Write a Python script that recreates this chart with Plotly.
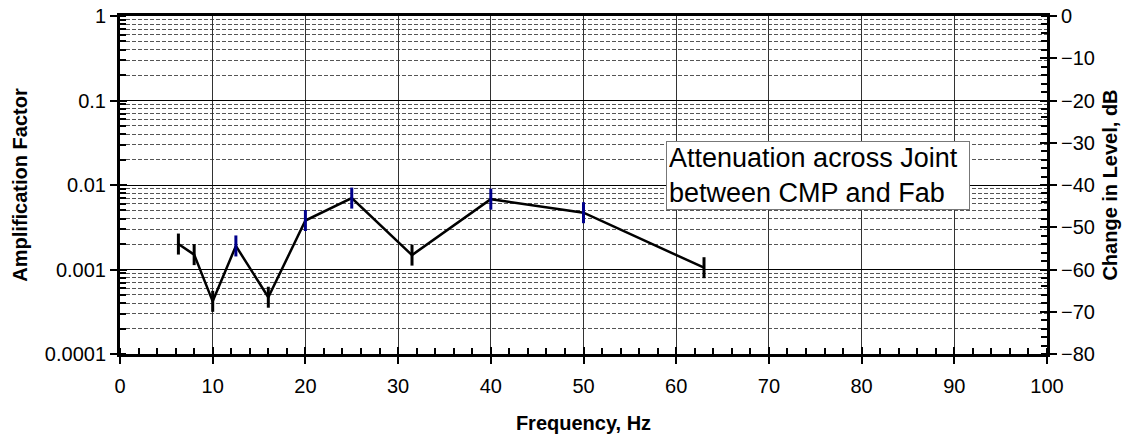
import plotly.graph_objects as go

# One-third-octave band centre frequencies (Hz) and measured amplification factor
freq_hz = [6.3, 8, 10, 12.5, 16, 20, 25, 31.5, 40, 50, 63]
amp_factor = [0.0020, 0.0015, 0.00042, 0.0019, 0.00047, 0.0038, 0.0070, 0.00148, 0.0068, 0.0047, 0.00105]
bar_colors = ["black", "black", "black", "#00008B", "black", "#00008B", "#00008B",
              "black", "#00008B", "#00008B", "black"]

x_ticks = list(range(0, 101, 10))
amp_ticks = [0.0001, 0.001, 0.01, 0.1, 1]
amp_tick_text = ["0.0001", "0.001", "0.01", "0.1", "1"]
db_ticks = list(range(-80, 1, 10))

FONT = "Liberation Sans, Arial, sans-serif"
AX = dict(showline=True, linecolor="black", linewidth=3, zeroline=False, automargin=False)

fig = go.Figure()
fig.add_trace(go.Scatter(
    x=freq_hz, y=amp_factor, mode="lines+markers",
    line=dict(color="black", width=2.5),
    marker=dict(symbol="line-ns", size=15, color=bar_colors,
                line=dict(width=3, color=bar_colors)),
    showlegend=False, cliponaxis=False,
))

fig.update_layout(
    width=1127, height=436,
    margin=dict(l=120, r=80, t=16, b=82),
    paper_bgcolor="white", plot_bgcolor="white",
    font=dict(family=FONT, size=20, color="black"),
    xaxis=dict(
        **AX, range=[0, 100], tickvals=x_ticks, mirror=True,
        ticks="outside", ticklen=7, tickwidth=2, tickcolor="black",
        ticklabelstandoff=5,
        showgrid=True, gridcolor="#333", gridwidth=1,
        minor=dict(dtick=2, ticks="inside", ticklen=6, tickwidth=2,
                   tickcolor="black", showgrid=False),
        title=dict(text="<b>Frequency, Hz</b>", standoff=20, font=dict(size=20)),
        tickfont=dict(size=20),
    ),
    yaxis=dict(
        **AX, type="log", range=[-4, 0], tickvals=amp_ticks, ticktext=amp_tick_text,
        ticks="outside", ticklen=7, tickwidth=2, tickcolor="black",
        showgrid=True, gridcolor="black", gridwidth=1,
        minor=dict(dtick="D1", ticks="inside", ticklen=6, tickwidth=2,
                   tickcolor="black", showgrid=True, gridcolor="#555",
                   griddash="4px,2px", gridwidth=1),
        title=dict(text="<b>Amplification Factor</b>", standoff=12, font=dict(size=20)),
        tickfont=dict(size=20),
    ),
    yaxis2=dict(
        **AX, overlaying="y", side="right", range=[-80, 0], tickvals=db_ticks,
        ticks="outside", ticklen=7, tickwidth=2, tickcolor="black", showgrid=False,
        minor=dict(dtick=2, ticks="inside", ticklen=6, tickwidth=2, tickcolor="black"),
        title=dict(text="<b>Change in Level, dB</b>", standoff=10, font=dict(size=20)),
        tickfont=dict(size=20),
    ),
    # inside halves of the major ticks so they cross the axis lines
    xaxis3=dict(overlaying="x", range=[0, 100], tickvals=x_ticks, ticks="inside",
                ticklen=7, tickwidth=2, tickcolor="black", showticklabels=False,
                showgrid=False, zeroline=False, showline=False),
    yaxis3=dict(overlaying="y", type="log", range=[-4, 0], tickvals=amp_ticks,
                ticks="inside", ticklen=7, tickwidth=2, tickcolor="black",
                showticklabels=False, showgrid=False, zeroline=False, showline=False),
    yaxis4=dict(overlaying="y", side="right", range=[-80, 0], tickvals=db_ticks,
                ticks="inside", ticklen=7, tickwidth=2, tickcolor="black",
                showticklabels=False, showgrid=False, zeroline=False, showline=False),
    annotations=[dict(
        xref="paper", yref="paper", x=0.753, y=0.528, xanchor="center", yanchor="middle",
        text="Attenuation across Joint<br>between CMP and Fab", align="left",
        showarrow=False, font=dict(size=27, color="black", family=FONT),
        bgcolor="white", bordercolor="#777", borderwidth=1, borderpad=2,
        width=298, height=63,
    )],
)

# empty traces to activate the helper axes
fig.add_trace(go.Scatter(x=[None], y=[None], yaxis="y2", showlegend=False))
fig.add_trace(go.Scatter(x=[None], y=[None], xaxis="x3", yaxis="y3", showlegend=False))
fig.add_trace(go.Scatter(x=[None], y=[None], yaxis="y4", showlegend=False))

fig.write_html("out.html")
